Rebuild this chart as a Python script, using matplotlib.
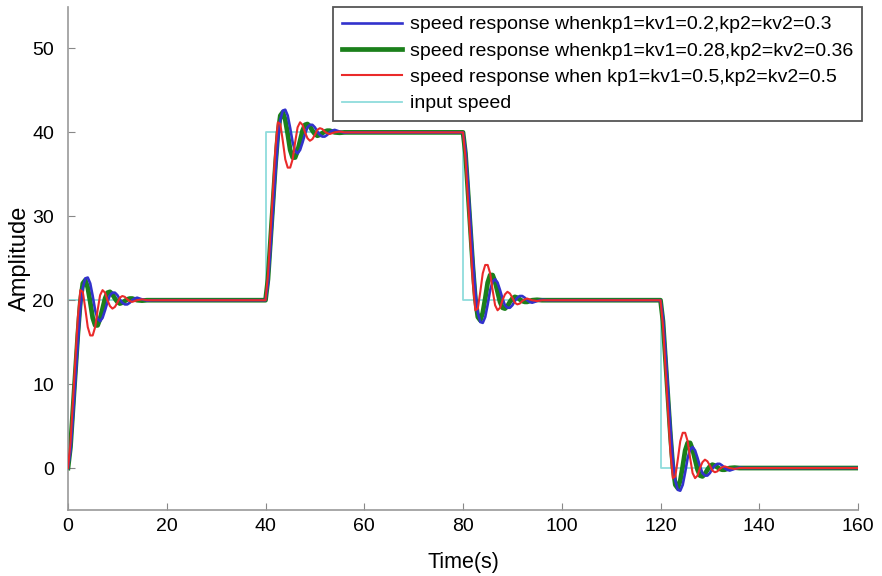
import numpy as np
import matplotlib
matplotlib.use('Agg')
import matplotlib.pyplot as plt

plt.rcParams['font.family'] = ['Liberation Sans', 'DejaVu Sans']

# instants des consignes et niveaux de vitesse
step_times = [0, 40, 80, 120, 160]
input_levels = [0, 20, 40, 20, 0]

resp_t = [0, 0.5, 1.0, 1.5, 2.0, 2.5, 3.0, 3.5, 4.0, 4.5, 5.0, 5.5, 6.0, 6.5,
          7.0, 7.5, 8.0, 8.5, 9.0, 9.5, 10.0, 10.5, 11.0, 11.5, 12.0, 12.5,
          13.0, 13.5, 14.0, 15.0, 16.0, 17.0]
resp_blue = [0, 2.0, 6.0, 10.5, 15.0, 19.0, 21.5, 22.6, 22.7, 22.0, 20.5, 18.8,
             17.8, 17.5, 17.9, 18.8, 19.8, 20.6, 20.9, 20.9, 20.6, 20.1, 19.7,
             19.5, 19.5, 19.7, 20.0, 20.2, 20.3, 20.1, 19.95, 20.0]
resp_green = [0, 2.5, 7.0, 11.5, 16.0, 19.8, 22.0, 22.4, 21.5, 19.8, 17.9, 17.0,
              17.0, 17.8, 19.0, 20.2, 20.9, 21.0, 20.7, 20.2, 19.8, 19.6, 19.7,
              19.9, 20.1, 20.2, 20.2, 20.1, 20.0, 19.95, 20.0, 20.0]
resp_red = [0, 3.0, 8.0, 13.0, 18.0, 21.2, 21.0, 19.0, 16.8, 15.8, 15.8, 16.8,
            18.8, 20.6, 21.2, 20.9, 20.0, 19.3, 19.0, 19.2, 19.7, 20.3, 20.5,
            20.4, 20.1, 19.9, 19.8, 19.9, 20.0, 20.1, 20.0, 20.0]

labels = ["speed response whenkp1=kv1=0.2,kp2=kv2=0.3",
          "speed response whenkp1=kv1=0.28,kp2=kv2=0.36",
          "speed response when kp1=kv1=0.5,kp2=kv2=0.5",
          "input speed"]


def build_curve(resp):
    """enchaîne la réponse lue à chaque échelon de consigne"""
    t_all, y_all = [], []
    for i in range(len(step_times) - 1):
        depart = input_levels[i]
        delta = input_levels[i + 1] - input_levels[i]
        for t, v in zip(resp_t, resp):
            t_all.append(step_times[i] + t)
            y_all.append(depart + v / 20.0 * delta)
    t_all.append(step_times[-1])
    y_all.append(input_levels[-1])
    return np.array(t_all), np.array(y_all)


fig = plt.figure(figsize=(8.82, 5.76), dpi=100)
ax = fig.add_axes([68 / 882, 1 - 510 / 576, (858 - 68) / 882, (510 - 6.5) / 576])

# consigne en escalier
x_in = [0] + step_times
y_in = [0] + input_levels[1:] + [input_levels[-1]]
ax.plot(x_in, y_in, drawstyle='steps-post', color="#8fdcdc", linewidth=1.3, zorder=1)

tb, yb = build_curve(resp_blue)
tg, yg = build_curve(resp_green)
tr, yr = build_curve(resp_red)
l1, = ax.plot(tb, yb, color="#3232cc", linewidth=1.9, zorder=3)
l2, = ax.plot(tg, yg, color="#1b801b", linewidth=3.4, zorder=2)
l3, = ax.plot(tr, yr, color="#ea2a2a", linewidth=1.5, zorder=4)
l4, = ax.plot([], [], color="#8fdcdc", linewidth=1.3)

ax.set_xlim(0, 160)
ax.set_ylim(-5, 55)
ax.set_xticks(range(0, 161, 20))
ax.set_yticks(range(0, 51, 10))
ax.tick_params(direction='in', length=5, color="#888888", labelsize=14)
ax.tick_params(axis='y', pad=10)
ax.tick_params(axis='x', pad=6)
for s in ["top", "right"]:
    ax.spines[s].set_visible(False)
for s in ["left", "bottom"]:
    ax.spines[s].set_color("#999999")
    ax.spines[s].set_linewidth(1.2)

ax.set_xlabel("Time(s)", fontsize=15.5, labelpad=12)
ax.set_ylabel("Amplitude", fontsize=17, labelpad=1)

leg = ax.legend([l1, l2, l3, l4], labels,
                loc='upper right', bbox_to_anchor=(862 / 882, 1 - 7 / 576),
                bbox_transform=fig.transFigure, borderaxespad=0,
                fontsize=14, handlelength=3.1, handletextpad=0.4,
                borderpad=0.45, fancybox=False, framealpha=1, labelspacing=0.45)
leg.get_frame().set_edgecolor("#555555")
leg.get_frame().set_linewidth(1.3)

fig.savefig("out.png", dpi=100)
plt.close(fig)
